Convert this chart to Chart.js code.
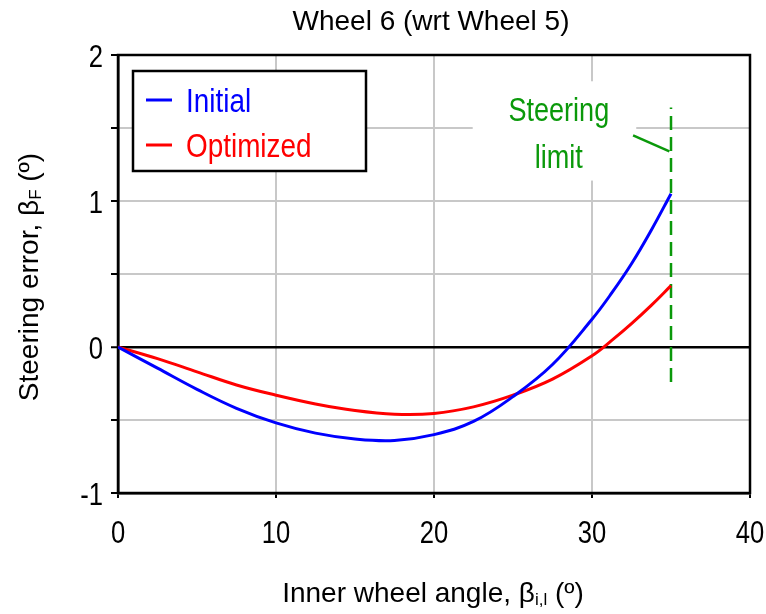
<!DOCTYPE html>
<html>
<head>
<meta charset="utf-8">
<script src="https://cdn.jsdelivr.net/npm/chart.js@4.4.1/dist/chart.umd.min.js"></script>
<style>
  html, body { margin: 0; padding: 0; background: #fff; }
</style>
</head>
<body>
<canvas id="steerChart" width="766" height="614"></canvas>
<script>
// Wheel 6 steering error vs inner wheel angle

const angles       = [0, 2.5, 5, 7.5, 10, 12.5, 15, 17.5, 20, 22.5, 25, 27.5, 30, 31.25, 32.5, 33.75, 35];
const initialErr   = [0, -0.145, -0.29, -0.42, -0.52, -0.59, -0.63, -0.64, -0.60, -0.51, -0.34, -0.12, 0.19, 0.37, 0.57, 0.80, 1.05];
const optimizedErr = [0, -0.08, -0.17, -0.26, -0.33, -0.39, -0.435, -0.46, -0.455, -0.41, -0.33, -0.22, -0.06, 0.045, 0.16, 0.285, 0.42];
const seriesLabels = ['Initial', 'Optimized'];
const xTicks = [0, 10, 20, 30, 40];
const yTicks = [-1, 0, 1, 2];
const limitAngle = 35;
const limitSpan = [-0.24, 1.64];
const leaderX = [32.6, 34.9];
const leaderY = [1.45, 1.34];

const FONT = "'Liberation Sans', Arial, sans-serif";
const NARROW = 0.8; // squeeze to look like Arial Narrow
const GREEN = '#0a990a';

const toPoints = (xs, ys) => xs.map((x, i) => ({ x: x, y: ys[i] }));

// text with optional subscript parts, e.g. [{t:'β'}, {t:'F', sub:true}]
function drawRich(ctx, parts, x, y, size, align, squeeze) {
    const sx = squeeze || 1;
    const fontFor = p => (p.sub ? Math.round(size * 0.6) : size) + 'px ' + FONT;
    const widths = parts.map(p => { ctx.font = fontFor(p); return ctx.measureText(p.t).width; });
    const total = widths.reduce((a, b) => a + b, 0);
    let cx = align === 'center' ? -total / 2 : (align === 'right' ? -total : 0);
    ctx.save();
    ctx.translate(x, y);
    ctx.scale(sx, 1);
    ctx.textAlign = 'left';
    ctx.textBaseline = 'alphabetic';
    parts.forEach((p, i) => {
        ctx.font = fontFor(p);
        ctx.fillText(p.t, cx, p.sub ? size * 0.12 : 0);
        cx += widths[i];
    });
    ctx.restore();
}

const decorPlugin = {
    id: 'decor',
    beforeDatasetsDraw(chart) {
        const { ctx, chartArea: a, scales } = chart;
        const xs = scales.x, ys = scales.y;
        ctx.save();

        // plot frame
        ctx.strokeStyle = '#000';
        ctx.lineWidth = 2.5;
        ctx.strokeRect(a.left, a.top, a.right - a.left, a.bottom - a.top);

        // legend box inside plot
        const lx = a.left + 15, ly = a.top + 16, lw = 233, lh = 100;
        ctx.fillStyle = '#fff';
        ctx.fillRect(lx, ly, lw, lh);
        ctx.strokeRect(lx, ly, lw, lh);
        chart.data.datasets.slice(0, 2).forEach((ds, i) => {
            const yy = ly + 29 + i * 45;
            ctx.strokeStyle = ds.borderColor;
            ctx.lineWidth = 3;
            ctx.beginPath();
            ctx.moveTo(lx + 13, yy);
            ctx.lineTo(lx + 39, yy);
            ctx.stroke();
            ctx.fillStyle = ds.borderColor;
            drawRich(ctx, [{ t: ds.label }], lx + 53, yy + 12, 34, 'left', 0.82);
        });

        // steering limit label on a white patch
        const bx0 = xs.getPixelForValue(22.45), bx1 = xs.getPixelForValue(32.8);
        const by0 = ys.getPixelForValue(1.82), by1 = ys.getPixelForValue(1.14);
        ctx.fillStyle = '#fff';
        ctx.fillRect(bx0, by0, bx1 - bx0, by1 - by0);
        ctx.fillStyle = GREEN;
        const tx = xs.getPixelForValue(27.9);
        drawRich(ctx, [{ t: 'Steering' }], tx, ys.getPixelForValue(1.545), 33, 'center', 0.82);
        drawRich(ctx, [{ t: 'limit' }], tx, ys.getPixelForValue(1.225), 33, 'center', 0.82);
        ctx.restore();
    },
    afterDraw(chart) {
        const { ctx, chartArea: a, scales } = chart;
        ctx.save();
        ctx.fillStyle = '#000';

        // tick labels
        scales.x.ticks.forEach(t => {
            if (!xTicks.includes(t.value)) return;
            drawRich(ctx, [{ t: String(t.value) }], scales.x.getPixelForValue(t.value), a.bottom + 50, 32, 'center', NARROW);
        });
        scales.y.ticks.forEach(t => {
            if (!yTicks.includes(t.value)) return;
            drawRich(ctx, [{ t: String(t.value) }], a.left - 15, scales.y.getPixelForValue(t.value) + 11.5, 32, 'right', NARROW);
        });

        // titles
        drawRich(ctx, [{ t: 'Wheel 6 (wrt Wheel 5)' }], (a.left + a.right) / 2 - 3, 30, 28, 'center');
        drawRich(ctx, [{ t: 'Inner wheel angle, β' }, { t: 'i,l', sub: true }, { t: ' (º)' }],
            (a.left + a.right) / 2 - 1, 601.5, 28, 'center');
        ctx.translate(38, (a.top + a.bottom) / 2 + 3);
        ctx.rotate(-Math.PI / 2);
        drawRich(ctx, [{ t: 'Steering error, β' }, { t: 'F', sub: true }, { t: ' (º)' }], 0, 0, 28, 'center');
        ctx.restore();
    }
};

new Chart(document.getElementById('steerChart'), {
    type: 'line',
    data: {
        datasets: [
            {
                label: seriesLabels[0],
                data: toPoints(angles, initialErr),
                borderColor: '#0000ff',
                borderWidth: 3,
                tension: 0.4,
                pointRadius: 0
            },
            {
                label: seriesLabels[1],
                data: toPoints(angles, optimizedErr),
                borderColor: '#ff0000',
                borderWidth: 3,
                tension: 0.4,
                pointRadius: 0
            },
            {
                label: 'limit',
                data: toPoints([limitAngle, limitAngle], limitSpan),
                borderColor: GREEN,
                borderWidth: 2.5,
                borderDash: [14, 7],
                pointRadius: 0
            },
            {
                label: 'leader',
                data: toPoints(leaderX, leaderY),
                borderColor: GREEN,
                borderWidth: 2.5,
                pointRadius: 0
            }
        ]
    },
    options: {
        responsive: false,
        animation: false,
        devicePixelRatio: 1,
        layout: { padding: { top: 55, right: 16, left: 0, bottom: 0 } },
        plugins: {
            legend: { display: false },
            title: { display: false },
            tooltip: { enabled: false }
        },
        scales: {
            x: {
                type: 'linear',
                min: xTicks[0],
                max: xTicks[xTicks.length - 1],
                afterFit: s => { s.height = 121; s.paddingLeft = 0; s.paddingRight = 0; },
                afterBuildTicks: s => { s.ticks = xTicks.map(v => ({ value: v })); },
                grid: {
                    color: '#c8c8c8',
                    lineWidth: 2,
                    tickColor: '#000',
                    tickWidth: 2,
                    tickLength: 5
                },
                border: { color: '#000', width: 2.5 },
                ticks: { display: false }
            },
            y: {
                min: yTicks[0],
                max: yTicks[yTicks.length - 1],
                afterFit: s => { s.width = 118; s.paddingTop = 0; s.paddingBottom = 0; },
                grid: {
                    color: c => c.tick && c.tick.value === 0 ? '#000' : '#c8c8c8',
                    lineWidth: c => c.tick && c.tick.value === 0 ? 2.5 : 2,
                    tickColor: '#000',
                    tickWidth: 2,
                    tickLength: 7
                },
                border: { color: '#000', width: 2.5 },
                ticks: { display: false, stepSize: 0.5 }
            }
        }
    },
    plugins: [decorPlugin]
});
</script>
</body>
</html>
